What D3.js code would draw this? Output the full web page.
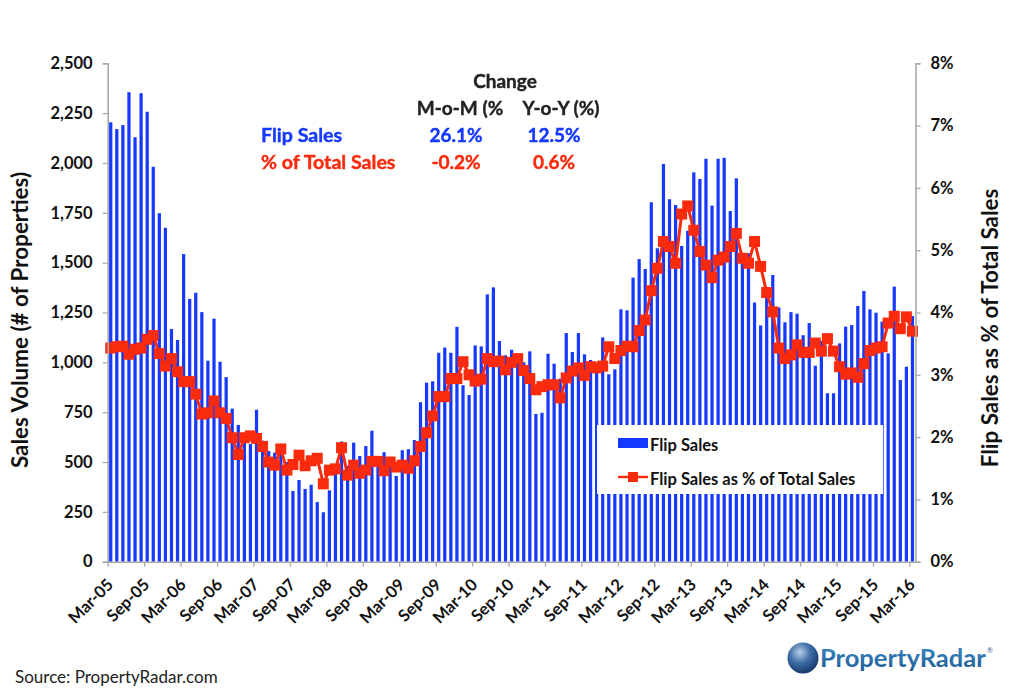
<!DOCTYPE html>
<html>
<head>
<meta charset="utf-8">
<script src="https://cdn.jsdelivr.net/npm/d3@7"></script>
<style>
  html, body { margin: 0; padding: 0; background: #fff; }
  svg { display: block; }
  text { font-family: Lato, "Open Sans", sans-serif; }
</style>
</head>
<body>
<div id="chart"></div>
<script>
// Monthly values, Mar-05 to Mar-16
const flipSales = [
  2204, 2170, 2190, 2355, 2129, 2350, 2257, 1981, 1748, 1675, 1167, 1112, 1543, 1318, 1349, 1252,
  1008, 1219, 1003, 926, 768, 686, 600, 590, 762, 607, 555, 547, 540, 500, 355, 410,
  365, 386, 299, 248, 358, 450, 603, 480, 597, 530, 580, 657, 520, 549, 520, 430,
  559, 564, 610, 800, 898, 905, 1048, 1074, 1048, 1178, 885, 836, 1085, 1080, 1341, 1376,
  1107, 1035, 1063, 1035, 1000, 1055, 741, 747, 1043, 993, 918, 1147, 1052, 1147, 1040, 1012,
  978, 1125, 940, 965, 1266, 1261, 1425, 1518, 1468, 1803, 1572, 1995, 1818, 1789, 1584, 1660,
  1953, 1920, 2021, 1786, 2021, 2026, 1759, 1923, 1547, 1547, 1300, 1185, 1346, 1438, 1275, 1201,
  1252, 1244, 1136, 1197, 983, 1107, 845, 845, 1095, 1179, 1187, 1283, 1358, 1266, 1249, 1204,
  1045, 1380, 911, 978, 1232
];
const flipShare = [
  3.43, 3.45, 3.46, 3.33, 3.41, 3.43, 3.57, 3.63, 3.34, 3.14, 3.26, 3.05, 2.89, 2.89, 2.69, 2.37,
  2.39, 2.58, 2.39, 2.30, 1.99, 1.72, 1.99, 2.02, 1.98, 1.85, 1.60, 1.55, 1.81, 1.47, 1.56, 1.71,
  1.54, 1.62, 1.66, 1.25, 1.47, 1.49, 1.83, 1.39, 1.55, 1.42, 1.47, 1.61, 1.61, 1.46, 1.60, 1.52,
  1.55, 1.50, 1.62, 1.85, 2.07, 2.34, 2.65, 2.65, 2.94, 2.94, 3.21, 3.00, 2.90, 2.93, 3.26, 3.21,
  3.22, 3.08, 3.20, 3.26, 3.07, 2.94, 2.76, 2.81, 2.84, 2.84, 2.63, 2.95, 3.06, 3.11, 2.99, 3.13,
  3.11, 3.14, 3.45, 3.26, 3.39, 3.46, 3.45, 3.71, 3.88, 4.35, 4.71, 5.14, 5.06, 4.79, 5.58, 5.71,
  5.32, 4.98, 4.76, 4.56, 4.84, 4.89, 5.06, 5.27, 4.87, 4.79, 5.14, 4.74, 4.32, 4.01, 3.43, 3.26,
  3.32, 3.48, 3.36, 3.36, 3.51, 3.38, 3.58, 3.38, 3.13, 3.01, 3.03, 2.96, 3.18, 3.39, 3.43, 3.45,
  3.83, 3.94, 3.74, 3.93, 3.70
];
const xTickLabels = [
  'Mar-05', 'Sep-05', 'Mar-06', 'Sep-06', 'Mar-07', 'Sep-07', 'Mar-08', 'Sep-08', 'Mar-09', 'Sep-09',
  'Mar-10', 'Sep-10', 'Mar-11', 'Sep-11', 'Mar-12', 'Sep-12', 'Mar-13', 'Sep-13', 'Mar-14', 'Sep-14',
  'Mar-15', 'Sep-15', 'Mar-16'
];
const leftTicks = [0, 250, 500, 750, 1000, 1250, 1500, 1750, 2000, 2250, 2500];
const rightTicks = [0, 1, 2, 3, 4, 5, 6, 7, 8];

const BLUE = '#1438ff';
const RED = '#fa2a0c';
const AXIS = '#a9a9a9';

const W = 1024, H = 698;
const plot = { left: 107.7, right: 915.5, top: 63.3, bottom: 561.7 };

const svg = d3.select('#chart').append('svg').attr('width', W).attr('height', H);
const defs = svg.append('defs');

// the reference is a soft screenshot, so the marks get a very slight blur
defs.append('filter').attr('id', 'soft').append('feGaussianBlur').attr('stdDeviation', 0.45);

const globe = defs.append('radialGradient').attr('id', 'globe')
  .attr('cx', '40%').attr('cy', '32%').attr('r', '75%');
globe.append('stop').attr('offset', '0%').attr('stop-color', '#b9cfe6');
globe.append('stop').attr('offset', '45%').attr('stop-color', '#3f6fa8');
globe.append('stop').attr('offset', '100%').attr('stop-color', '#10305f');

const logoFill = defs.append('linearGradient').attr('id', 'logoFill')
  .attr('x1', 0).attr('y1', 0).attr('x2', 0).attr('y2', 1);
logoFill.append('stop').attr('offset', '0%').attr('stop-color', '#3f8fc8');
logoFill.append('stop').attr('offset', '100%').attr('stop-color', '#1d5a94');

// ── Scales ───────────────────────────────────────────────────────────────
const months = d3.range(flipSales.length);
const xBand = d3.scaleBand().domain(months).range([plot.left, plot.right]).paddingInner(0.47).paddingOuter(0.235);
const xTick = d3.scaleLinear().domain([0, flipSales.length]).range([plot.left, plot.right]);
const yLeft = d3.scaleLinear().domain([0, 2500]).range([plot.bottom, plot.top]);
const yRight = d3.scaleLinear().domain([0, 8]).range([plot.bottom, plot.top]);

// ── Bars and line ────────────────────────────────────────────────────────
const marks = svg.append('g').attr('filter', 'url(#soft)');

marks.selectAll('rect.bar').data(flipSales).enter().append('rect')
  .attr('class', 'bar')
  .attr('x', (d, i) => xBand(i))
  .attr('width', xBand.bandwidth())
  .attr('y', d => yLeft(d))
  .attr('height', d => plot.bottom - yLeft(d))
  .attr('fill', BLUE);

const line = d3.line().x((d, i) => xBand(i) + xBand.bandwidth() / 2).y(d => yRight(d));
marks.append('path').attr('d', line(flipShare))
  .attr('fill', 'none').attr('stroke', RED).attr('stroke-width', 3);

const markerSize = 11;
marks.selectAll('rect.marker').data(flipShare).enter().append('rect')
  .attr('class', 'marker')
  .attr('x', (d, i) => xBand(i) + xBand.bandwidth() / 2 - markerSize / 2)
  .attr('y', d => yRight(d) - markerSize / 2)
  .attr('width', markerSize)
  .attr('height', markerSize)
  .attr('fill', RED);

// ── Axes ─────────────────────────────────────────────────────────────────
function styleAxis(g) {
  g.selectAll('path.domain').attr('stroke', AXIS).attr('stroke-width', 1.6);
  g.selectAll('.tick line').attr('stroke', AXIS).attr('stroke-width', 1.3);
  g.selectAll('.tick text').attr('fill', '#111').attr('font-size', 16.5).attr('font-weight', 700);
}

svg.append('g').attr('transform', `translate(${plot.left},0)`)
  .call(d3.axisLeft(yLeft).tickValues(leftTicks).tickSize(5).tickSizeOuter(5).tickPadding(10)
    .tickFormat(d3.format(',')))
  .call(styleAxis);

svg.append('g').attr('transform', `translate(${plot.right},0)`)
  .call(d3.axisRight(yRight).tickValues(rightTicks).tickSize(5).tickSizeOuter(5).tickPadding(10)
    .tickFormat(d => d + '%'))
  .call(styleAxis);

svg.append('g').attr('transform', `translate(0,${plot.bottom})`)
  .call(d3.axisBottom(xTick).tickValues(xTickLabels.map((d, i) => i * 6)).tickSize(5).tickSizeOuter(0)
    .tickFormat((d, i) => xTickLabels[i]))
  .call(styleAxis)
  .call(g => g.selectAll('.tick text')
    .attr('text-anchor', 'end')
    .attr('dx', 0).attr('dy', 0).attr('x', 6).attr('y', 24)
    .attr('transform', 'rotate(-45 6 24)'));

// Axis titles
svg.append('text')
  .attr('transform', 'translate(28,320) rotate(-90)')
  .attr('text-anchor', 'middle')
  .attr('font-size', 22.4).attr('font-weight', 700).attr('fill', '#111')
  .text('Sales Volume (# of Properties)');
svg.append('text')
  .attr('transform', 'translate(998,328) rotate(-90)')
  .attr('text-anchor', 'middle')
  .attr('font-size', 22.4).attr('font-weight', 700).attr('fill', '#111')
  .text('Flip Sales as % of Total Sales');

// ── Change table ─────────────────────────────────────────────────────────
const tableCells = [
  ['Change', 505, 88, '#222', 'middle', 19],
  ['M-o-M (%', 460, 115, '#222', 'middle', 19],
  ['Y-o-Y (%)', 561, 115, '#222', 'middle', 19],
  ['Flip Sales', 261, 142, BLUE, 'start', 19.6],
  ['26.1%', 456, 142, BLUE, 'middle', 19],
  ['12.5%', 554, 142, BLUE, 'middle', 19],
  ['% of Total Sales', 261, 169, RED, 'start', 19.6],
  ['-0.2%', 456, 169, RED, 'middle', 19],
  ['0.6%', 554, 169, RED, 'middle', 19],
];
svg.append('g').attr('filter', 'url(#soft)').selectAll('text').data(tableCells).enter().append('text')
  .attr('x', d => d[1]).attr('y', d => d[2])
  .attr('fill', d => d[3]).attr('stroke', d => d[3]).attr('stroke-width', 0.4)
  .attr('text-anchor', d => d[4])
  .attr('font-size', d => d[5]).attr('font-weight', 700)
  .text(d => d[0]);

// ── Legend ───────────────────────────────────────────────────────────────
const legend = svg.append('g');
legend.append('rect').attr('x', 597).attr('y', 425).attr('width', 286).attr('height', 69).attr('fill', '#fff');
legend.append('rect').attr('x', 618).attr('y', 438).attr('width', 30).attr('height', 10).attr('fill', BLUE);
legend.append('line').attr('x1', 618).attr('x2', 648).attr('y1', 477).attr('y2', 477)
  .attr('stroke', RED).attr('stroke-width', 2.4);
legend.append('rect').attr('x', 628).attr('y', 472).attr('width', 10).attr('height', 10).attr('fill', RED);
legend.append('text').attr('x', 650).attr('y', 451)
  .attr('font-size', 16.5).attr('font-weight', 700).attr('fill', '#111').text('Flip Sales');
legend.append('text').attr('x', 650).attr('y', 485)
  .attr('font-size', 16.5).attr('font-weight', 700).attr('fill', '#111').text('Flip Sales as % of Total Sales');

// ── Footer ───────────────────────────────────────────────────────────────
svg.append('text').attr('x', 15).attr('y', 683)
  .attr('font-size', 17).attr('fill', '#222').text('Source: PropertyRadar.com');

svg.append('circle').attr('cx', 803).attr('cy', 658).attr('r', 15.5).attr('fill', 'url(#globe)');
svg.append('text').attr('x', 820).attr('y', 667)
  .attr('font-size', 25.5).attr('font-weight', 700).attr('fill', 'url(#logoFill)').text('PropertyRadar');
svg.append('text').attr('x', 987).attr('y', 653)
  .attr('font-size', 7).attr('fill', '#1d5a94').text('®');
</script>
</body>
</html>
